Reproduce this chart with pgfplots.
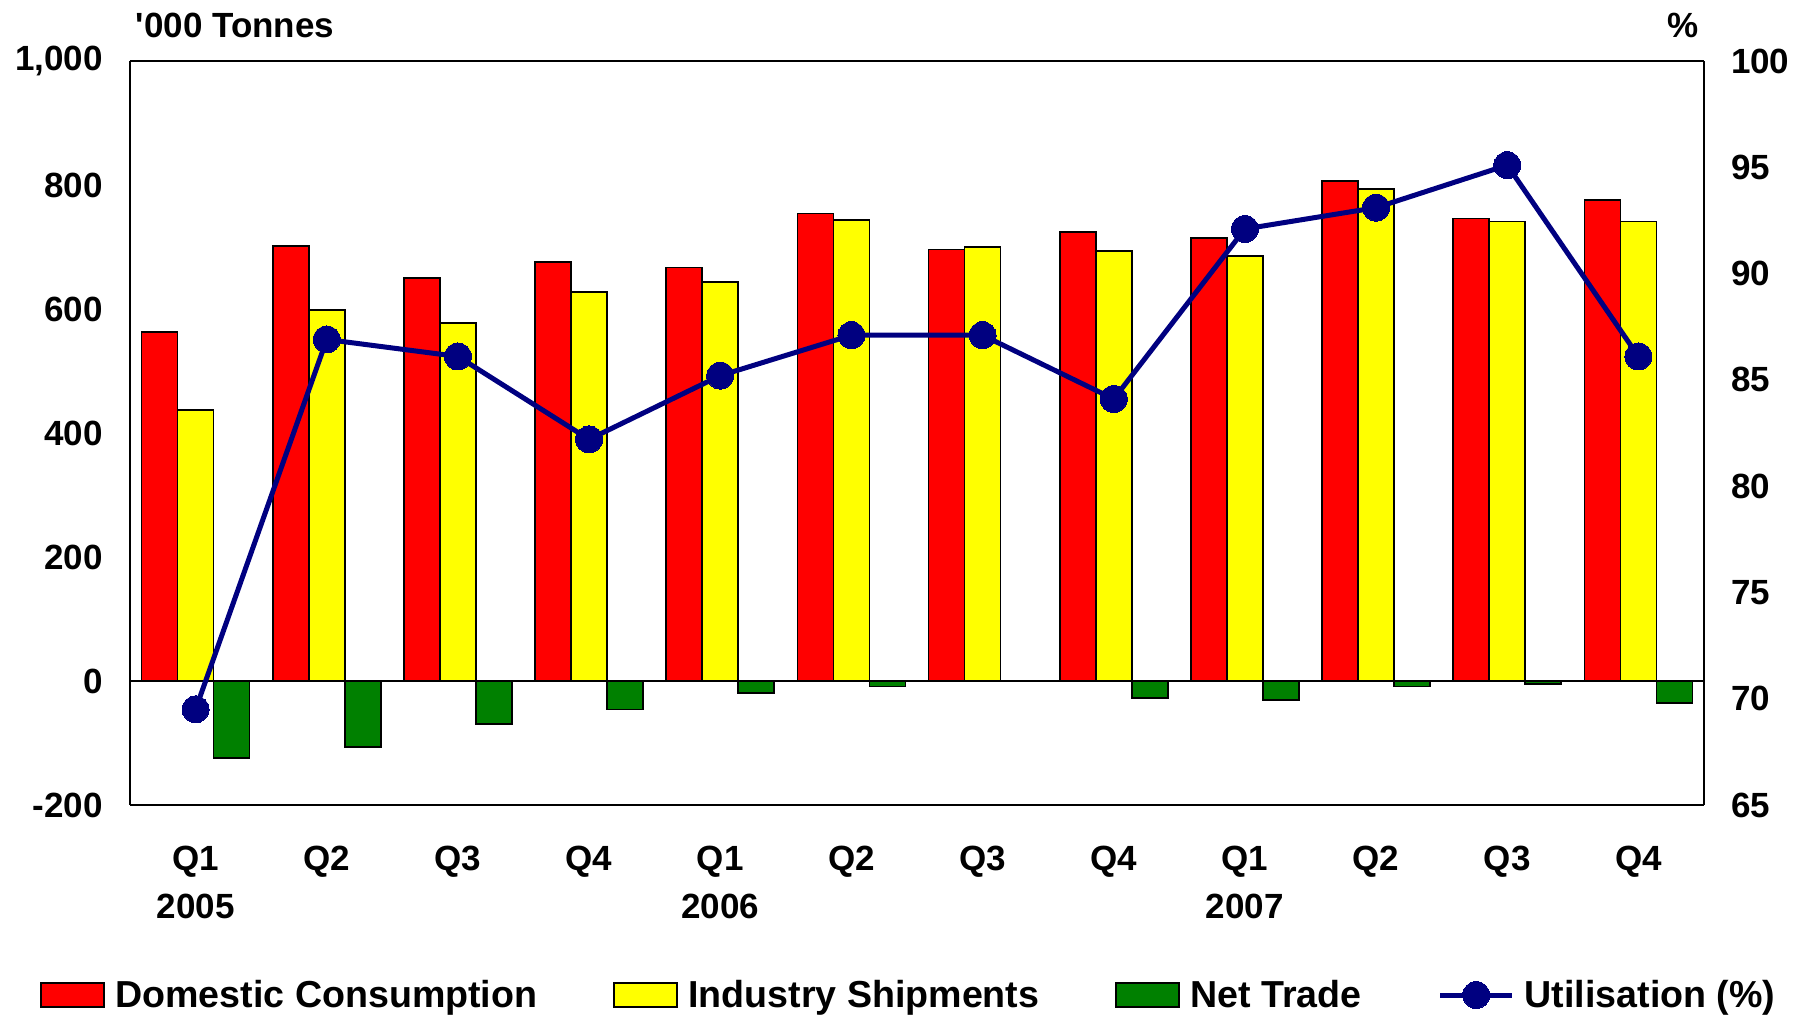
\documentclass[border=0pt]{standalone}
\usepackage{fontspec}
\setmainfont{Liberation Sans}
\usepackage{pgfplots}
\pgfplotsset{compat=1.18}
\definecolor{dcred}{RGB}{255,0,0}
\definecolor{isyel}{RGB}{255,255,0}
\definecolor{ntgreen}{RGB}{0,128,0}
\definecolor{utnavy}{RGB}{0,0,128}
\newcommand{\tkfont}{\bfseries\fontsize{17.5}{24}\selectfont}
\newcommand{\lgfont}{\bfseries\fontsize{18.8}{22}\selectfont}
\pgfplotsset{
  barlegend/.style={legend image code/.code={\draw[##1] (0pt,-6pt) rectangle (31.5pt,6pt);}},
  linelegend/.style={legend image code/.code={\draw[mark repeat=2,mark phase=2,##1] plot coordinates {(0pt,0pt) (18pt,0pt) (36pt,0pt)};}},
}
\begin{document}
\begin{tikzpicture}
\useasboundingbox (-65pt,-106pt) rectangle (835pt,402.5pt);
\begin{axis}[
  scale only axis, width=787pt, height=372pt,
  xmin=-0.5, xmax=11.5, ymin=-200, ymax=1000,
  ybar=0pt, bar width=18pt,
  axis line style={line width=1pt},
  major tick length=0pt,
  xtick={0,...,11},
  xticklabels={{Q1\\2005},Q2,Q3,Q4,{Q1\\2006},Q2,Q3,Q4,{Q1\\2007},Q2,Q3,Q4},
  xticklabel style={font=\tkfont, align=center, anchor=north, yshift=-17pt},
  ytick={-200,0,200,400,600,800,1000},
  yticklabels={-200,0,200,400,600,800,{1,000}},
  yticklabel style={font=\tkfont, xshift=-10pt},
  axis y line*=left,
  axis x line*=box,
  clip=false,
]
\draw[line width=1pt] (axis cs:-0.5,0) -- (axis cs:11.5,0);
\addplot[fill=dcred, draw=black, line width=0.9pt] coordinates {
(0,563) (1,702) (2,650) (3,676) (4,667) (5,754) (6,696) (7,724) (8,715) (9,807) (10,746) (11,776)};
\addplot[fill=isyel, draw=black, line width=0.9pt] coordinates {
(0,437) (1,598) (2,578) (3,628) (4,644) (5,744) (6,700) (7,694) (8,685) (9,794) (10,741) (11,741)};
\addplot[fill=ntgreen, draw=black, line width=0.9pt] coordinates {
(0,-124) (1,-106) (2,-70) (3,-46) (4,-20) (5,-9) (6,0) (7,-28) (8,-31) (9,-9) (10,-5) (11,-35)};
\end{axis}
\begin{axis}[
  scale only axis, width=787pt, height=372pt,
  xmin=-0.5, xmax=11.5, ymin=65, ymax=100,
  axis x line=none,
  axis y line*=right,
  axis line style={line width=1pt},
  major tick length=0pt,
  ytick={65,70,...,100},
  yticklabel style={font=\tkfont, xshift=10pt},
  /pgf/number format/assume math mode=true,
  clip=false,
  legend columns=4,
  legend style={at={(axis description cs:0,0)}, anchor=west, xshift=-45pt, yshift=-95pt,
    draw=none, fill=none, inner sep=0pt, font=\lgfont,
    nodes={inner xsep=0pt, inner ysep=2pt},
    /tikz/every odd column/.append style={column sep=5pt},
    /tikz/every even column/.append style={column sep=38pt}},
]
\addlegendimage{fill=dcred, draw=black, line width=1pt, barlegend}
\addlegendentry{Domestic Consumption}
\addlegendimage{fill=isyel, draw=black, line width=1pt, barlegend}
\addlegendentry{Industry Shipments}
\addlegendimage{fill=ntgreen, draw=black, line width=1pt, barlegend}
\addlegendentry{Net Trade}
\addplot[color=utnavy, line width=2.5pt, mark=*, mark size=6.75pt, mark options={fill=utnavy, draw=utnavy, line width=0pt}, linelegend] coordinates {
(0,69.5) (1,86.9) (2,86.1) (3,82.2) (4,85.2) (5,87.1) (6,87.1) (7,84.1) (8,92.1) (9,93.1) (10,95.1) (11,86.1)};
\addlegendentry{Utilisation (\%)}
\end{axis}
\node[font=\tkfont] at (52.5pt,390pt) {\textquotesingle000 Tonnes};
\node[font=\tkfont] at (776.5pt,390pt) {\%};
\end{tikzpicture}
\end{document}
